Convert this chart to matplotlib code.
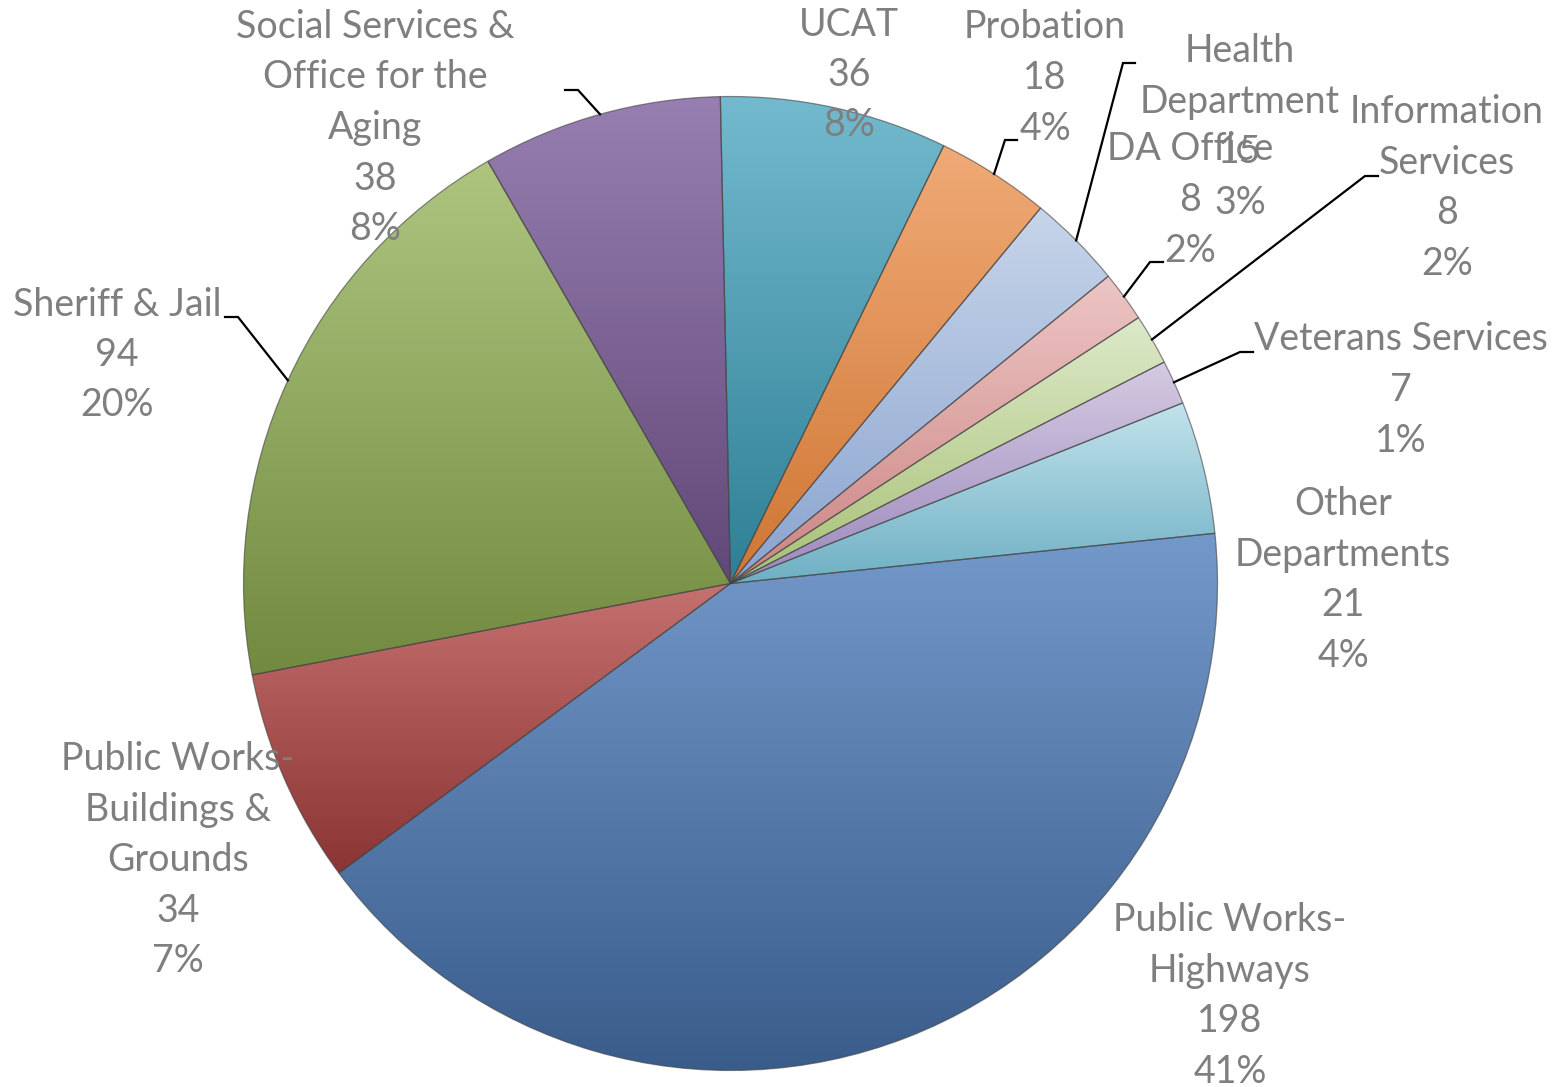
import numpy as np
import matplotlib.pyplot as plt
from matplotlib.colors import to_rgb

plt.rcParams['font.family'] = ['Lato', 'DejaVu Sans']

# 画布尺寸（像素）
W, H = 1560, 1087

# 数据
departments = ['UCAT', 'Probation', 'Health\nDepartment', 'DA Office',
               'Information\nServices', 'Veterans Services',
               'Other\nDepartments', 'Public Works-\nHighways',
               'Public Works-\nBuildings &\nGrounds', 'Sheriff & Jail',
               'Social Services &\nOffice for the\nAging']
counts = [36, 18, 15, 8, 8, 7, 21, 198, 34, 94, 38]
percents = ['8%', '4%', '3%', '2%', '2%', '1%', '4%', '41%', '7%', '20%', '8%']

# 渐变色（上 -> 下）
top_colors = ['#74BACE', '#F0AA76', '#C7D5EA', '#EDC6C5', '#DDE9C9',
              '#D5CBE2', '#C2E3EC', '#7399CA', '#C5716F', '#ADC57F', '#977FB1']
bottom_colors = ['#2E7F95', '#CF7634', '#8AA3CF', '#CB8482', '#A7C075',
                 '#9C88BC', '#6FB0C4', '#385B8A', '#8A3434', '#718A3F', '#624879']

# 标签位置（图片像素坐标，文本块中心）
label_pos = [(849, 75), (1045, 78), (1240, 127), (1190, 200), (1447, 188),
             (1401, 390), (1343, 580), (1230, 996), (178, 860), (117, 355),
             (375, 128)]
# 引导线：标签端点 -> 折点 -> 扇区外缘中点
leaders = {1: [(1017, 140), (1005, 140)],
           2: [(1135, 63), (1123, 63)],
           3: [(1163, 262), (1150, 262)],
           4: [(1378, 176), (1365, 176)],
           5: [(1253, 352), (1240, 352)],
           9: [(225, 317), (238, 317)],
           10: [(565, 90), (578, 90)]}

cx, cy, R = 730.5, H - 583.5, 487

fig = plt.figure(figsize=(W / 100, H / 100), dpi=100)
ax = fig.add_axes([0, 0, 1, 1])

wedges, _ = ax.pie(counts, startangle=91.2, counterclock=False,
                   center=(cx, cy), radius=R, frame=True,
                   wedgeprops=dict(edgecolor=(0.25, 0.25, 0.25, 0.6), linewidth=0.9))

# 每个扇区自己的竖直渐变
for w, c_top, c_bot in zip(wedges, top_colors, bottom_colors):
    verts = w.get_patch_transform().transform(w.get_path().vertices)
    x0, y0 = verts.min(axis=0)
    x1, y1 = verts.max(axis=0)
    t = np.linspace(0, 1, 256)[:, None]
    grad = (1 - t) * np.array(to_rgb(c_bot)) + t * np.array(to_rgb(c_top))
    im = ax.imshow(grad[:, None, :], extent=[x0, x1, y0, y1], origin='lower',
                   aspect='auto', interpolation='bilinear', zorder=1)
    im.set_clip_path(w)
    w.set_facecolor('none')
    w.set_zorder(2)

# 标签
for i, (name, n, pct) in enumerate(zip(departments, counts, percents)):
    x, y = label_pos[i]
    ax.text(x, H - y, f'{name}\n{n}\n{pct}', ha='center', va='center',
            fontsize=27, color='#7F7F7F', linespacing=1.5, zorder=5)

# 引导线
for i, pts in leaders.items():
    w = wedges[i]
    mid = np.deg2rad((w.theta1 + w.theta2) / 2)
    ex, ey = cx + R * np.cos(mid), cy + R * np.sin(mid)
    xs = [p[0] for p in pts] + [ex]
    ys = [H - p[1] for p in pts] + [ey]
    ax.plot(xs, ys, color='black', lw=1.6, solid_joinstyle='miter', zorder=4)

ax.set_xlim(0, W)
ax.set_ylim(0, H)
ax.set_aspect('equal')
ax.axis('off')

fig.savefig('out.png', dpi=100)
